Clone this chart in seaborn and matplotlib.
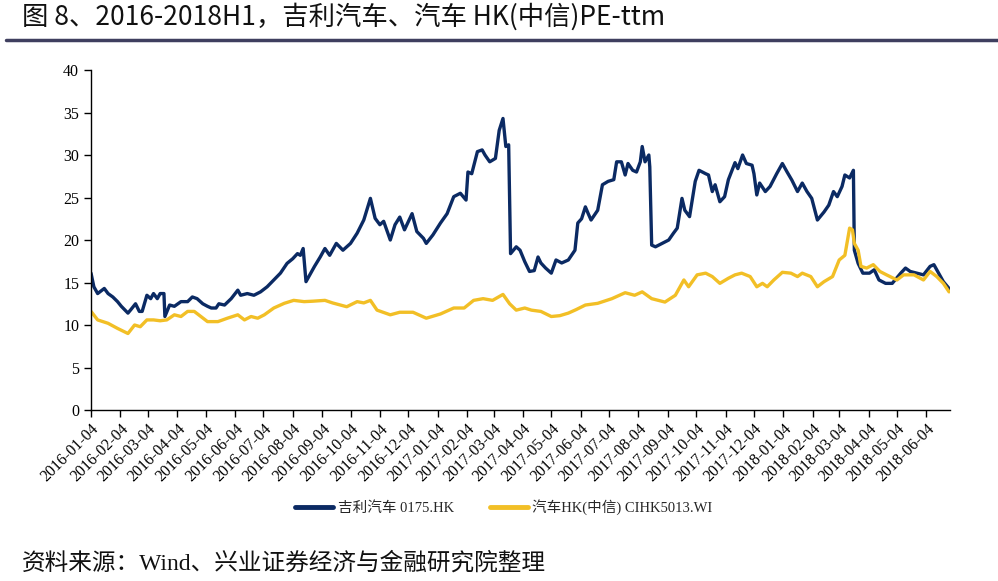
import pandas as pd
import matplotlib.pyplot as plt
import matplotlib.dates as mdates
from matplotlib.lines import Line2D
import seaborn as sns

sns.set_style("ticks")
plt.rcParams['font.family'] = ['Liberation Serif', 'Noto Sans CJK SC']
plt.rcParams['axes.unicode_minus'] = False

# Series names
geely_name = "吉利汽车 0175.HK"
index_name = "汽车HK(中信) CIHK5013.WI"

# 吉利汽车 PE-ttm
geely_dates = [
    "2016-01-04", "2016-01-07", "2016-01-11", "2016-01-18", "2016-01-22", "2016-01-27",
    "2016-02-01", "2016-02-05", "2016-02-12", "2016-02-15", "2016-02-20", "2016-02-24", "2016-02-27",
    "2016-03-03", "2016-03-07", "2016-03-10", "2016-03-14", "2016-03-17", "2016-03-21", "2016-03-22", "2016-03-27",
    "2016-04-01", "2016-04-08", "2016-04-15", "2016-04-20", "2016-04-25",
    "2016-05-01", "2016-05-06", "2016-05-10", "2016-05-15", "2016-05-18", "2016-05-24", "2016-05-31",
    "2016-06-07", "2016-06-10", "2016-06-17", "2016-06-24",
    "2016-07-01", "2016-07-08", "2016-07-15", "2016-07-22", "2016-07-29",
    "2016-08-04", "2016-08-09", "2016-08-12", "2016-08-15", "2016-08-18", "2016-08-22", "2016-08-27",
    "2016-09-02", "2016-09-07", "2016-09-12", "2016-09-19", "2016-09-26",
    "2016-10-04", "2016-10-11", "2016-10-18", "2016-10-25", "2016-10-30",
    "2016-11-04", "2016-11-08", "2016-11-15", "2016-11-20", "2016-11-25", "2016-11-30",
    "2016-12-08", "2016-12-13", "2016-12-20", "2016-12-23", "2016-12-30",
    "2017-01-07", "2017-01-14", "2017-01-21", "2017-01-28",
    "2017-02-03", "2017-02-05", "2017-02-09", "2017-02-15", "2017-02-20", "2017-02-23", "2017-02-28",
    "2017-03-06", "2017-03-10", "2017-03-14", "2017-03-17", "2017-03-20", "2017-03-22", "2017-03-28",
    "2017-04-01", "2017-04-06", "2017-04-11", "2017-04-16", "2017-04-20", "2017-04-23", "2017-04-28",
    "2017-05-04", "2017-05-09", "2017-05-15", "2017-05-22", "2017-05-29",
    "2017-06-01", "2017-06-05", "2017-06-09", "2017-06-12", "2017-06-15", "2017-06-22", "2017-06-27",
    "2017-07-03", "2017-07-09", "2017-07-12", "2017-07-17", "2017-07-21", "2017-07-24", "2017-07-29",
    "2017-08-02", "2017-08-06", "2017-08-08", "2017-08-11", "2017-08-15", "2017-08-16", "2017-08-18",
    "2017-08-22", "2017-08-29",
    "2017-09-05", "2017-09-10", "2017-09-14", "2017-09-19", "2017-09-22", "2017-09-27",
    "2017-10-03", "2017-10-07", "2017-10-14", "2017-10-17", "2017-10-21", "2017-10-24", "2017-10-29",
    "2017-11-03", "2017-11-07", "2017-11-14", "2017-11-17", "2017-11-22", "2017-11-26",
    "2017-12-02", "2017-12-04", "2017-12-07", "2017-12-10", "2017-12-16", "2017-12-21", "2017-12-28",
    "2018-01-03", "2018-01-08", "2018-01-13", "2018-01-19", "2018-01-24", "2018-01-29",
    "2018-02-03", "2018-02-09", "2018-02-16", "2018-02-21", "2018-02-26",
    "2018-03-02", "2018-03-07", "2018-03-10", "2018-03-15", "2018-03-19", "2018-03-20", "2018-03-24", "2018-03-29",
    "2018-04-05", "2018-04-10", "2018-04-15", "2018-04-22", "2018-04-29",
    "2018-05-08", "2018-05-13", "2018-05-18", "2018-05-25",
    "2018-06-01", "2018-06-08", "2018-06-12", "2018-06-17", "2018-06-22", "2018-06-28",
]
geely_pe = [
    16.1, 14.5, 13.7, 14.3, 13.7, 13.3,
    12.75, 12.2, 11.4, 11.8, 12.5, 11.6, 11.6,
    13.5, 13.1, 13.7, 13.1, 13.7, 13.7, 11.0, 12.35,
    12.2, 12.75, 12.75, 13.3, 13.1,
    12.5, 12.2, 12.0, 12.0, 12.5, 12.35, 13.1,
    14.1, 13.5, 13.7, 13.5,
    13.9, 14.5, 15.3, 16.1, 17.25,
    17.8, 18.4, 18.2, 19.0, 15.1, 15.9, 16.9,
    18.0, 19.0, 18.2, 19.6, 18.8,
    19.6, 20.8, 22.35, 24.9, 22.55,
    21.8, 22.2, 20.0, 21.8, 22.7, 21.2,
    23.1, 21.0, 20.2, 19.6, 20.6,
    22.0, 23.1, 25.1, 25.5,
    24.7, 28.0, 27.8, 30.4, 30.6, 30.0, 29.2,
    29.6, 32.9, 34.3, 31.0, 31.2, 18.4, 19.2,
    18.8, 17.45, 16.3, 16.4, 18.0, 17.3, 16.7,
    16.1, 17.65, 17.3, 17.65, 18.8,
    22.0, 22.5, 23.9, 23.1, 22.35, 23.5, 26.5,
    26.9, 27.1, 29.2, 29.2, 27.65, 29.0, 28.2,
    28.0, 29.2, 31.0, 29.2, 30.0, 28.6, 19.4,
    19.2, 19.6,
    20.0, 20.8, 21.4, 24.9, 23.5, 22.75,
    26.9, 28.2, 27.8, 27.65, 25.7, 26.5, 24.5,
    25.1, 27.1, 29.1, 28.4, 30.0, 29.0,
    28.8, 27.8, 25.3, 26.7, 25.7, 26.3, 27.8,
    29.0, 28.0, 27.05, 25.7, 26.7, 25.7,
    24.9, 22.35, 23.3, 24.1, 25.7,
    25.1, 26.3, 27.65, 27.3, 28.2, 18.8, 17.25, 16.1,
    16.1, 16.5, 15.3, 14.9, 14.9,
    16.1, 16.7, 16.3, 16.1,
    15.9, 16.9, 17.1, 16.1, 15.1, 14.3,
]

# 汽车HK(中信) PE-ttm
index_dates = [
    "2016-01-04", "2016-01-11", "2016-01-22", "2016-02-01", "2016-02-12", "2016-02-19", "2016-02-25",
    "2016-03-03", "2016-03-10", "2016-03-17", "2016-03-24", "2016-04-01", "2016-04-08", "2016-04-15",
    "2016-04-22", "2016-04-29", "2016-05-06", "2016-05-17", "2016-05-27", "2016-06-07", "2016-06-14",
    "2016-06-21", "2016-06-28", "2016-07-05", "2016-07-15", "2016-07-26", "2016-08-05", "2016-08-16",
    "2016-08-25", "2016-09-07", "2016-09-15", "2016-09-30", "2016-10-11", "2016-10-18", "2016-10-25",
    "2016-11-01", "2016-11-15", "2016-11-25", "2016-12-09", "2016-12-23",
    "2017-01-07", "2017-01-21", "2017-02-01", "2017-02-11", "2017-02-21", "2017-03-03", "2017-03-14",
    "2017-03-21", "2017-03-28", "2017-04-06", "2017-04-13", "2017-04-23", "2017-05-04", "2017-05-13",
    "2017-05-22", "2017-05-30", "2017-06-09", "2017-06-22", "2017-07-07", "2017-07-21", "2017-07-31",
    "2017-08-08", "2017-08-18", "2017-09-01", "2017-09-12", "2017-09-21", "2017-09-26", "2017-10-05",
    "2017-10-14", "2017-10-21", "2017-10-29", "2017-11-07", "2017-11-14", "2017-11-21", "2017-11-30",
    "2017-12-07", "2017-12-13", "2017-12-18", "2017-12-25",
    "2018-01-03", "2018-01-12", "2018-01-19", "2018-01-24", "2018-02-02", "2018-02-09", "2018-02-16",
    "2018-02-25", "2018-03-04", "2018-03-10", "2018-03-15", "2018-03-18", "2018-03-20", "2018-03-24",
    "2018-03-27", "2018-04-02", "2018-04-09", "2018-04-16", "2018-04-23", "2018-05-04", "2018-05-11",
    "2018-05-22", "2018-06-01", "2018-06-08", "2018-06-15", "2018-06-22", "2018-06-28",
]
index_pe = [
    11.6, 10.6, 10.2, 9.6, 9.0, 10.0, 9.8,
    10.6, 10.6, 10.5, 10.6, 11.2, 11.0, 11.6,
    11.6, 11.0, 10.4, 10.4, 10.8, 11.2, 10.6,
    11.0, 10.8, 11.2, 12.0, 12.55, 12.9, 12.75,
    12.8, 12.9, 12.6, 12.15, 12.75, 12.6, 12.9,
    11.75, 11.2, 11.5, 11.5, 10.8,
    11.3, 12.0, 12.0, 12.9, 13.1, 12.9, 13.6,
    12.5, 11.75, 12.0, 11.75, 11.6, 11.0, 11.1,
    11.4, 11.8, 12.35, 12.55, 13.1, 13.8, 13.5,
    13.9, 13.1, 12.7, 13.5, 15.3, 14.5, 15.9,
    16.1, 15.7, 14.9, 15.5, 15.9, 16.1, 15.7,
    14.5, 14.9, 14.5, 15.3,
    16.2, 16.1, 15.7, 16.1, 15.7, 14.5, 15.1,
    15.7, 17.65, 18.2, 21.4, 21.2, 19.6, 18.8,
    16.9, 16.7, 17.1, 16.3, 15.9, 15.3, 15.9,
    15.9, 15.3, 16.3, 15.7, 14.9, 13.9,
]

palette = {geely_name: "#0b2a63", index_name: "#f2bf26"}

df = pd.concat([
    pd.DataFrame({"date": pd.to_datetime(geely_dates), "pe": geely_pe, "series": geely_name}),
    pd.DataFrame({"date": pd.to_datetime(index_dates), "pe": index_pe, "series": index_name}),
], ignore_index=True)

fig = plt.figure(figsize=(9.98, 5.81), dpi=100)
ax = fig.add_axes([0.0912, 0.2943, 0.8607, 0.5852])

sns.lineplot(data=df, x="date", y="pe", hue="series", palette=palette,
             hue_order=[geely_name, index_name], linewidth=2.4, ax=ax)

ax.set_ylim(0, 40)
ax.set_yticks(range(0, 41, 5))
ax.set_xlim(pd.Timestamp("2016-01-04"), pd.Timestamp("2018-06-29"))
month_ticks = pd.date_range("2016-01-04", "2018-06-04", freq=pd.DateOffset(months=1))
ax.set_xticks(month_ticks)
ax.xaxis.set_major_formatter(mdates.DateFormatter("%Y-%m-%d"))
plt.setp(ax.get_xticklabels(), rotation=45, ha="right", rotation_mode="anchor")
ax.tick_params(axis="both", labelsize=11.5, length=5, width=1, color="black", labelcolor="black")
ax.tick_params(axis="x", pad=3)
ax.set_xlabel("")
ax.set_ylabel("")
for side in ["top", "right"]:
    ax.spines[side].set_visible(False)
for side in ["left", "bottom"]:
    ax.spines[side].set_color("black")
    ax.spines[side].set_linewidth(1)

handles, labels = ax.get_legend_handles_labels()
ax.get_legend().remove()
for h in handles:
    h.set_linewidth(3.5)
fig.legend(handles, labels, loc="center", bbox_to_anchor=(0.505, 0.127), ncol=2,
           frameon=False, fontsize=10.5, handlelength=2.6, columnspacing=2.5, handletextpad=0.3)

# Title and rule
fig.text(22 / 998, 1 - 17 / 581, "图 8、2016-2018H1，吉利汽车、汽车 HK(中信)PE-ttm",
         fontsize=19, fontweight="medium", va="center", ha="left", color="#111111",
         family=["Noto Sans CJK SC", "DejaVu Sans"])
fig.add_artist(Line2D([6 / 998, 1.0], [1 - 40 / 581, 1 - 40 / 581], color="#3f3f5f", linewidth=2.5))

# Source note
fig.text(22 / 998, 1 - 563 / 581, "资料来源：Wind、兴业证券经济与金融研究院整理",
         fontsize=17, va="center", ha="left", color="#111111")

plt.savefig("out.png", dpi=100)
plt.close()
